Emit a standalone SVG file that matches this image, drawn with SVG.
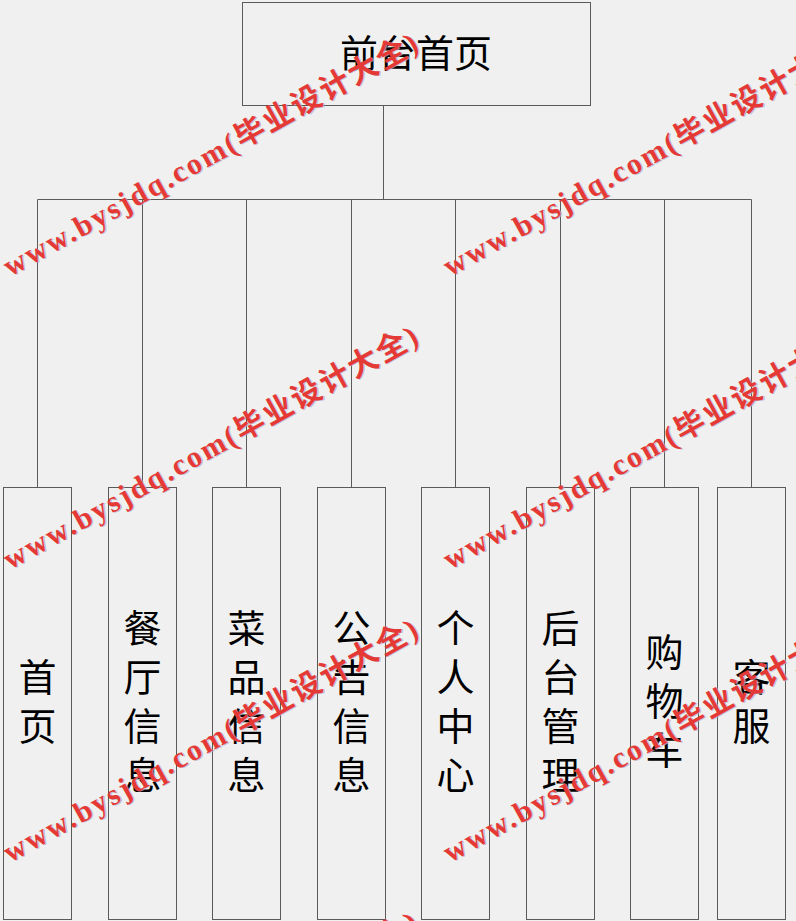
<svg xmlns="http://www.w3.org/2000/svg" xmlns:xlink="http://www.w3.org/1999/xlink" width="796" height="921" viewBox="0 0 796 921">
<style>
.box{fill:#f0f0f0;stroke:#5a5a5a;stroke-width:1}
.conn{fill:none;stroke:#5a5a5a;stroke-width:1}
.lbl{font-family:"Noto Sans CJK SC","Noto Sans",sans-serif;font-size:38px;fill:#000;text-anchor:middle}
.wm{font-family:"Liberation Serif","Noto Sans CJK SC",serif;font-size:30px;font-weight:bold}
.wmr{fill:#e53935}
.wms{fill:#a8b0d0;opacity:0.7}
</style>
<defs>
<g id="wm">
<text class="wm wms" x="1" y="1" textLength="469" lengthAdjust="spacing">www.bysjdq.com(毕业设计大全)</text>
<text class="wm wmr" x="0" y="0" textLength="469" lengthAdjust="spacing">www.bysjdq.com(毕业设计大全)</text>
</g>
</defs>
<rect width="796" height="921" fill="#f0f0f0"/>
<g id="connectors">
<path class="conn" d="M383.5 105.5V199.5M37.5 199.5H751.5M37.5 199.5V487.5M142.5 199.5V487.5M246.5 199.5V487.5M351.5 199.5V487.5M455.5 199.5V487.5M560.5 199.5V487.5M664.5 199.5V487.5M751.5 199.5V487.5"/>
</g>
<g id="node-root">
<rect class="box" x="242.5" y="2.5" width="348" height="103"/>
<text class="lbl" x="416" y="67">前台首页</text>
</g>
<g id="node-home">
<rect class="box" x="3.5" y="487.5" width="68" height="432"/>
<text class="lbl"><tspan x="37.5" y="691">首</tspan><tspan x="37.5" y="740">页</tspan></text>
</g>
<g id="node-restaurant">
<rect class="box" x="108.5" y="487.5" width="68" height="432"/>
<text class="lbl"><tspan x="142.5" y="642">餐</tspan><tspan x="142.5" y="691">厅</tspan><tspan x="142.5" y="740">信</tspan><tspan x="142.5" y="789">息</tspan></text>
</g>
<g id="node-dishes">
<rect class="box" x="212.5" y="487.5" width="68" height="432"/>
<text class="lbl"><tspan x="246.5" y="642">菜</tspan><tspan x="246.5" y="691">品</tspan><tspan x="246.5" y="740">信</tspan><tspan x="246.5" y="789">息</tspan></text>
</g>
<g id="node-notice">
<rect class="box" x="317.5" y="487.5" width="68" height="432"/>
<text class="lbl"><tspan x="351.5" y="642">公</tspan><tspan x="351.5" y="691">告</tspan><tspan x="351.5" y="740">信</tspan><tspan x="351.5" y="789">息</tspan></text>
</g>
<g id="node-personal">
<rect class="box" x="421.5" y="487.5" width="68" height="432"/>
<text class="lbl"><tspan x="455.5" y="642">个</tspan><tspan x="455.5" y="691">人</tspan><tspan x="455.5" y="740">中</tspan><tspan x="455.5" y="789">心</tspan></text>
</g>
<g id="node-admin">
<rect class="box" x="526.5" y="487.5" width="68" height="432"/>
<text class="lbl"><tspan x="560.5" y="642">后</tspan><tspan x="560.5" y="691">台</tspan><tspan x="560.5" y="740">管</tspan><tspan x="560.5" y="789">理</tspan></text>
</g>
<g id="node-cart">
<rect class="box" x="630.5" y="487.5" width="68" height="432"/>
<text class="lbl"><tspan x="664.5" y="666">购</tspan><tspan x="664.5" y="715">物</tspan><tspan x="664.5" y="764">车</tspan></text>
</g>
<g id="node-service">
<rect class="box" x="717.5" y="487.5" width="68" height="432"/>
<text class="lbl"><tspan x="751.5" y="691">客</tspan><tspan x="751.5" y="740">服</tspan></text>
</g>
<g id="watermarks">
<use xlink:href="#wm" transform="translate(10,277) rotate(-29)"/>
<use xlink:href="#wm" transform="translate(450,277) rotate(-29)"/>
<use xlink:href="#wm" transform="translate(10,570) rotate(-29)"/>
<use xlink:href="#wm" transform="translate(450,570) rotate(-29)"/>
<use xlink:href="#wm" transform="translate(10,863) rotate(-29)"/>
<use xlink:href="#wm" transform="translate(450,863) rotate(-29)"/>
<use xlink:href="#wm" transform="translate(10,1156) rotate(-29)"/>
</g>
</svg>
